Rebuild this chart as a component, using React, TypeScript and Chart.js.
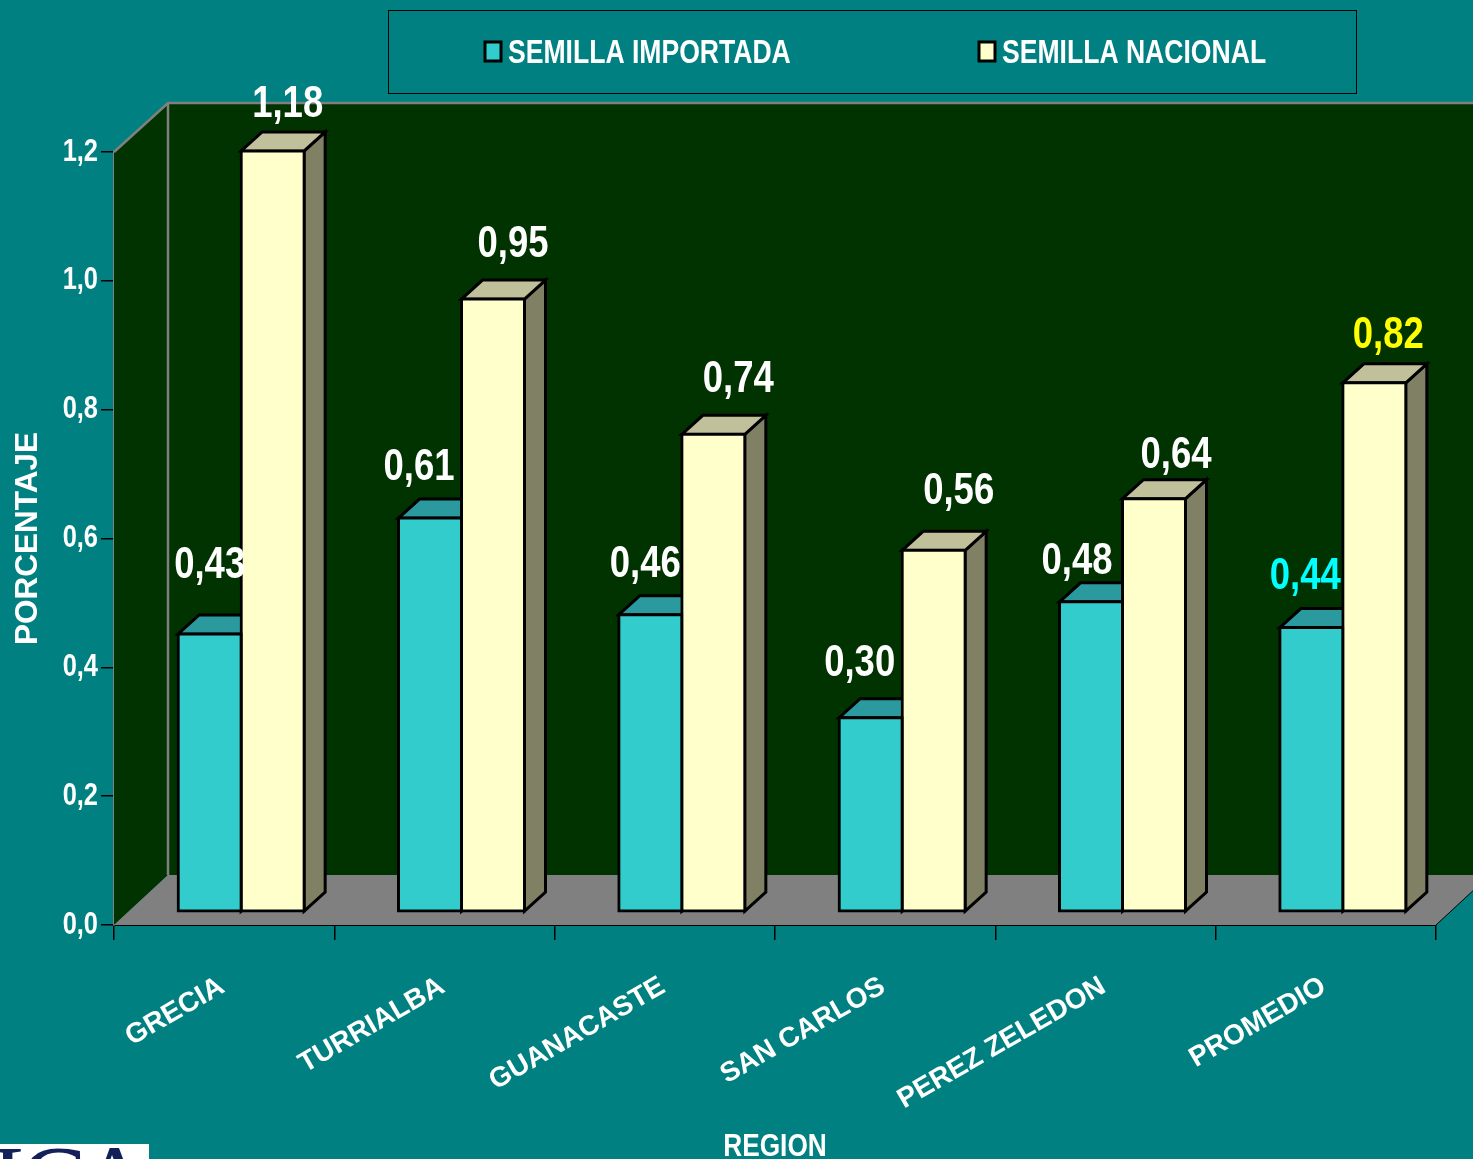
import React, { useEffect, useRef } from "react";
import { Chart, registerables } from "chart.js";

Chart.register(...registerables);

const categories = ["GRECIA", "TURRIALBA", "GUANACASTE", "SAN CARLOS", "PEREZ ZELEDON", "PROMEDIO"];
const importada = [0.43, 0.61, 0.46, 0.3, 0.48, 0.44];
const nacional = [1.18, 0.95, 0.74, 0.56, 0.64, 0.82];
const importadaLabels = ["0,43", "0,61", "0,46", "0,30", "0,48", "0,44"];
const nacionalLabels = ["1,18", "0,95", "0,74", "0,56", "0,64", "0,82"];
const importadaLabelColors = ["#fff", "#fff", "#fff", "#fff", "#fff", "#00FFFF"];
const nacionalLabelColors = ["#fff", "#fff", "#fff", "#fff", "#fff", "#FFFF00"];
// hand-placed label nudges of the original: [dx from bar centre, distance above bar top]
const importadaNudge = [[0, 68], [-11, 50], [-5, 50], [-11, 54], [-14, 40], [-6, 51]];
const nacionalNudge = [[15, 46], [20, 54], [25, 55], [25, 59], [22, 43], [14, 47]];

// Family name that the fillText wrapper below condenses horizontally (Arial Narrow look).
const NARROW = "NarrowArial, 'Liberation Sans', sans-serif";
const NARROW_RATIO = 0.82;
const WIDE = "'Liberation Sans', sans-serif";
const TEAL = "#008080";

// 3D geometry of the picture (pixels)
const WALL_DX = 54;
const WALL_DY = 50;
const BAR_DX = 21;
const BAR_DY = 19;
const BASE_SHIFT_X = 17;
const BASE_SHIFT_Y = 14;

const backdrop = {
  id: "backdrop",
  beforeDatasetsDraw(chart: any) {
    const { ctx, chartArea: a } = chart;
    const { left, right, top, bottom } = a;
    ctx.save();
    ctx.fillStyle = "#003300";
    ctx.beginPath();
    ctx.moveTo(left, top);
    ctx.lineTo(left + WALL_DX, top - WALL_DY);
    ctx.lineTo(right + WALL_DX, top - WALL_DY);
    ctx.lineTo(right + WALL_DX, bottom - WALL_DY);
    ctx.lineTo(left + WALL_DX, bottom - WALL_DY);
    ctx.lineTo(left, bottom);
    ctx.closePath();
    ctx.fill();
    ctx.fillStyle = "#808080";
    ctx.beginPath();
    ctx.moveTo(left, bottom);
    ctx.lineTo(left + WALL_DX, bottom - WALL_DY);
    ctx.lineTo(right + WALL_DX, bottom - WALL_DY);
    ctx.lineTo(right, bottom);
    ctx.closePath();
    ctx.fill();
    ctx.strokeStyle = "#808080";
    ctx.lineWidth = 2.5;
    ctx.beginPath();
    ctx.moveTo(left, top);
    ctx.lineTo(left + WALL_DX, top - WALL_DY + 1);
    ctx.lineTo(right + WALL_DX, top - WALL_DY + 1);
    ctx.moveTo(left + WALL_DX, top - WALL_DY + 1);
    ctx.lineTo(left + WALL_DX, bottom - WALL_DY);
    ctx.stroke();
    ctx.strokeStyle = "#000";
    ctx.lineWidth = 1;
    ctx.beginPath();
    ctx.moveTo(right, bottom);
    ctx.lineTo(right + WALL_DX, bottom - WALL_DY);
    ctx.stroke();
    chart.data.datasets.forEach((ds: any, di: number) => {
      chart.getDatasetMeta(di).data.forEach((bar: any) => {
        const hw = bar.width / 2;
        const x0 = bar.x - hw;
        const x1 = bar.x + hw;
        const y0 = bar.y;
        const y1 = bar.base;
        ctx.lineWidth = 3;
        ctx.lineJoin = "miter";
        ctx.strokeStyle = "#000";
        ctx.fillStyle = ds.sideColor;
        ctx.beginPath();
        ctx.moveTo(x1, y0);
        ctx.lineTo(x1 + BAR_DX, y0 - BAR_DY);
        ctx.lineTo(x1 + BAR_DX, y1 - BAR_DY);
        ctx.lineTo(x1, y1);
        ctx.closePath();
        ctx.fill();
        ctx.stroke();
        ctx.fillStyle = ds.topColor;
        ctx.beginPath();
        ctx.moveTo(x0, y0);
        ctx.lineTo(x0 + BAR_DX, y0 - BAR_DY);
        ctx.lineTo(x1 + BAR_DX, y0 - BAR_DY);
        ctx.lineTo(x1, y0);
        ctx.closePath();
        ctx.fill();
        ctx.stroke();
      });
    });
    ctx.restore();
  },
};

const valueLabels = {
  id: "valueLabels",
  afterDatasetsDraw(chart: any) {
    const { ctx } = chart;
    ctx.save();
    ctx.font = `bold 44.5px ${NARROW}`;
    ctx.textAlign = "center";
    ctx.textBaseline = "middle";
    chart.data.datasets.forEach((ds: any, di: number) => {
      chart.getDatasetMeta(di).data.forEach((bar: any, i: number) => {
        ctx.fillStyle = ds.labelColors[i];
        ctx.fillText(ds.labelTexts[i], bar.x + ds.nudge[i][0], bar.y - ds.nudge[i][1]);
      });
    });
    ctx.restore();
  },
};

const legendBox = {
  id: "legendBox",
  afterDraw(chart: any) {
    const { ctx } = chart;
    ctx.save();
    ctx.strokeStyle = "#000";
    ctx.lineWidth = 1;
    ctx.strokeRect(388.5, 10.5, 968, 83);
    const starts = [484, 978];
    ctx.font = `bold 32.4px ${NARROW}`;
    ctx.textBaseline = "middle";
    ctx.textAlign = "left";
    chart.data.datasets.forEach((ds: any, di: number) => {
      const x = starts[di];
      ctx.fillStyle = ds.backgroundColor;
      ctx.fillRect(x + 1, 42, 16, 19);
      ctx.lineWidth = 3;
      ctx.strokeStyle = "#000";
      ctx.strokeRect(x + 1, 42, 16, 19);
      ctx.fillStyle = "#fff";
      ctx.fillText(ds.label, x + 24, 54);
    });
    ctx.restore();
  },
};

const logoLetters = ["I", "C", "A"];
const logoLetterX = [-9, 20, 79];

const logo = {
  id: "logo",
  afterDraw(chart: any) {
    const { ctx } = chart;
    ctx.save();
    ctx.fillStyle = "#fff";
    ctx.fillRect(0, 1144, 149, 15);
    ctx.beginPath();
    ctx.rect(0, 1144, 149, 15);
    ctx.clip();
    ctx.fillStyle = "#14205a";
    ctx.font = "100px 'Liberation Serif', serif";
    ctx.textBaseline = "alphabetic";
    ctx.textAlign = "left";
    logoLetters.forEach((l, i) => ctx.fillText(l, logoLetterX[i], 1214));
    ctx.restore();
  },
};

export default function App() {
  const ref = useRef<HTMLCanvasElement>(null);
  useEffect(() => {
    document.body.style.margin = "0";
    document.body.style.background = TEAL;
    const canvas = ref.current!;
    const context: any = canvas.getContext("2d");
    const nativeFillText = context.fillText;
    context.fillText = function (text: string, x: number, y: number, maxWidth?: number) {
      if (String(context.font).includes("NarrowArial")) {
        const w = context.measureText(text).width * NARROW_RATIO;
        return nativeFillText.call(context, text, x, y, maxWidth === undefined ? w : Math.min(w, maxWidth));
      }
      return maxWidth === undefined
        ? nativeFillText.call(context, text, x, y)
        : nativeFillText.call(context, text, x, y, maxWidth);
    };
    const chart = new Chart(canvas, {
      type: "bar",
      data: {
        labels: categories,
        datasets: [
          {
            label: "SEMILLA IMPORTADA",
            data: importada.map((y, x) => ({ x, y })),
            backgroundColor: "#33CCCC",
            borderColor: "#000",
            borderWidth: 3,
            borderSkipped: false,
            inflateAmount: 1.5,
            topColor: "#2A9A9E",
            sideColor: "#1F7F80",
            labelTexts: importadaLabels,
            labelColors: importadaLabelColors,
            nudge: importadaNudge,
            xAxisID: "barX",
            yAxisID: "barY",
            barThickness: 63,
            clip: false,
          } as any,
          {
            label: "SEMILLA NACIONAL",
            data: nacional.map((y, x) => ({ x, y })),
            backgroundColor: "#FFFFCC",
            borderColor: "#000",
            borderWidth: 3,
            borderSkipped: false,
            inflateAmount: 1.5,
            topColor: "#C0C09A",
            sideColor: "#808064",
            labelTexts: nacionalLabels,
            labelColors: nacionalLabelColors,
            nudge: nacionalNudge,
            xAxisID: "barX",
            yAxisID: "barY",
            barThickness: 63,
            clip: false,
          } as any,
        ],
      },
      options: {
        animation: false,
        responsive: false,
        layout: { padding: { left: 0, right: 37, top: 152, bottom: 0 } },
        plugins: { legend: { display: false }, tooltip: { enabled: false } },
        scales: {
          x: {
            type: "category",
            position: "bottom",
            afterFit(s: any) { s.height = 234; },
            border: { display: true, color: "#000", width: 2 },
            grid: { offset: true, drawOnChartArea: false, drawTicks: true, tickLength: 15, color: "#000", lineWidth: 1.5 },
            ticks: { color: "#fff", font: { family: WIDE, weight: "bold", size: 28 }, minRotation: 30, maxRotation: 30, padding: 30, labelOffset: -2, autoSkip: false },
            title: { display: true, text: "REGION", color: "#fff", font: { family: NARROW, weight: "bold", size: 32 }, padding: { top: 0, bottom: -7 } },
          },
          y: {
            type: "linear",
            position: "left",
            min: 0,
            max: 1.2,
            afterFit(s: any) { s.width = 114; },
            border: { display: true, color: "#808080", width: 2 },
            grid: { drawOnChartArea: false, drawTicks: true, tickLength: 13, color: "#000", lineWidth: 1.5 },
            ticks: {
              stepSize: 0.2,
              color: "#fff",
              padding: 3,
              font: { family: NARROW, weight: "bold", size: 31 },
              callback: (v: any) => Number(v).toFixed(1).replace(".", ","),
            },
            title: { display: true, text: "PORCENTAJE", color: "#fff", font: { family: WIDE, weight: "bold", size: 31.5 }, padding: { top: 9, bottom: 0 } },
          },
          barX: {
            type: "linear",
            display: false,
            offset: false,
            grid: { offset: false },
            position: "bottom",
            min: -0.5 - BASE_SHIFT_X / 220.33,
            max: 5.5 - BASE_SHIFT_X / 220.33,
          },
          barY: {
            type: "linear",
            display: false,
            position: "left",
            min: -BASE_SHIFT_Y / 644,
            max: 1.2 - BASE_SHIFT_Y / 644,
          },
        },
      } as any,
      plugins: [backdrop, valueLabels, legendBox, logo],
    });
    return () => {
      chart.destroy();
      context.fillText = nativeFillText;
    };
  }, []);
  return (
    <div style={{ position: "absolute", left: 0, top: 0, width: 1473, height: 1159, background: TEAL, overflow: "hidden" }}>
      <canvas ref={ref} width={1473} height={1159} style={{ display: "block" }} />
    </div>
  );
}
